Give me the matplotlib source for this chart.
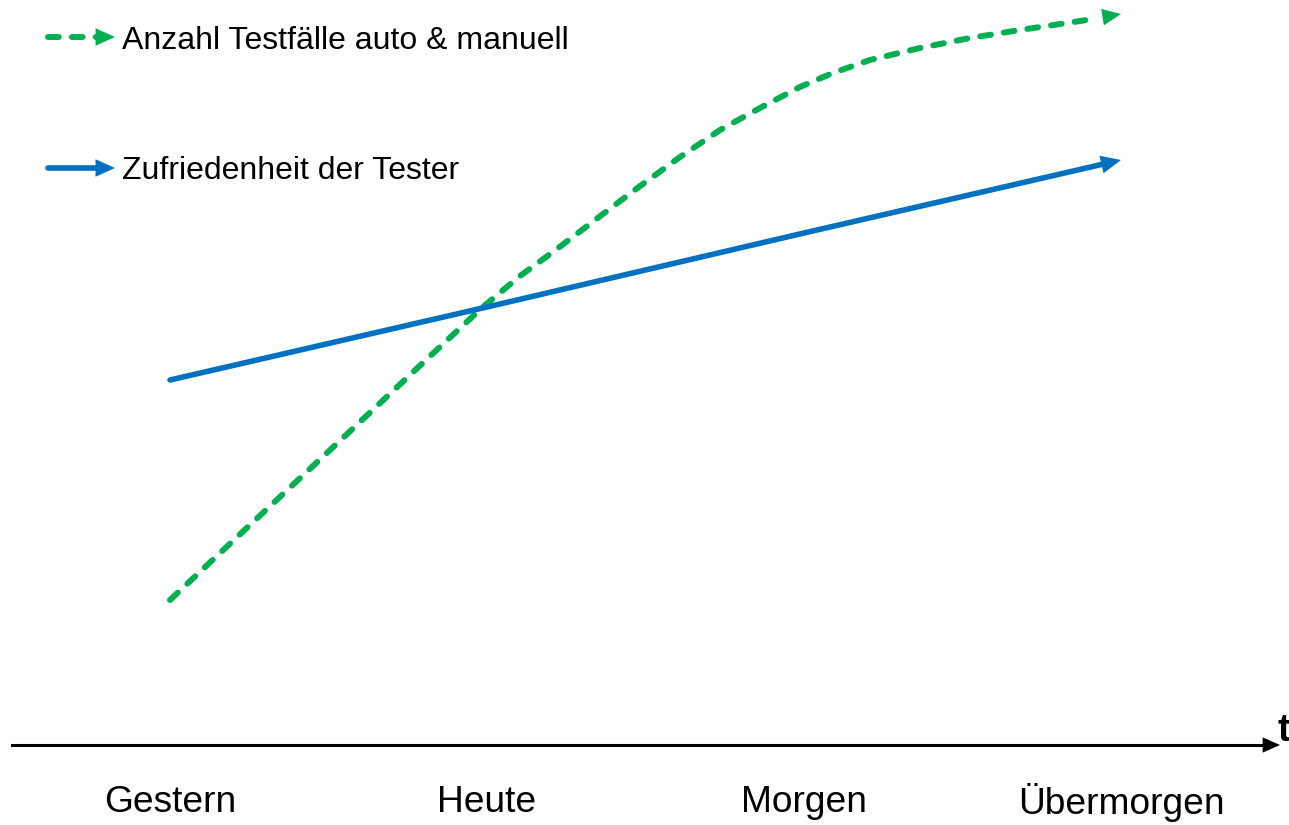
import matplotlib
matplotlib.use("Agg")
import matplotlib.pyplot as plt
from matplotlib.patches import FancyArrowPatch

# ---- data (category positions 0..3, arbitrary level units) ----
categories = ["Gestern", "Heute", "Morgen", "Übermorgen"]

testcases_x = [0.0, 0.252, 0.505, 0.757, 0.858, 0.987, 1.104, 1.208, 1.262, 1.366,
               1.483, 1.609, 1.735, 1.861, 1.987, 2.091, 2.208, 2.366, 2.524, 2.681,
               2.830, 2.912, 3.0]
testcases_y = [225, 300, 375, 450, 480, 518, 549, 573, 586, 611,
               639, 668, 695, 717, 738, 752, 765, 777, 787, 795,
               802, 806, 811]

satisfaction_x = [0, 1, 2, 3]
satisfaction_y = [445, 518, 592, 665]

legend_labels = ["Anzahl Testfälle auto & manuell", "Zufriedenheit der Tester"]
axis_label = "t"

GREEN = "#00B050"
BLUE = "#0070C0"
DASH = (0, (1.8, 2.2))

plt.rcParams["font.family"] = ["Liberation Sans", "DejaVu Sans"]

W, H = 1289, 825
fig = plt.figure(figsize=(W / 100, H / 100), dpi=100)
ax = fig.add_axes([0, 0, 1, 1])
px_per_cat = 317.0
x0_px = 170.0
ax.set_xlim(-x0_px / px_per_cat, (W - x0_px) / px_per_cat)
ax.set_ylim(0, H)
ax.axis("off")


def head(p0, p1, color, hl=14.4, hw=6.5, transform=None, artist_host=None):
    a = FancyArrowPatch(p0, p1, arrowstyle=f"-|>,head_length={hl},head_width={hw}",
                        mutation_scale=1, color=color, lw=0, shrinkA=0, shrinkB=0,
                        transform=transform if transform is not None else ax.transData,
                        zorder=5)
    if artist_host is None:
        ax.add_patch(a)
    else:
        artist_host.add_artist(a)


# green dashed curve
ax.plot(testcases_x[:-1], testcases_y[:-1], color=GREEN, lw=4.3, linestyle=DASH,
        dash_capstyle="round")
head((testcases_x[-3], testcases_y[-3]), (testcases_x[-1], testcases_y[-1]), GREEN,
     hl=13.5, hw=6.0)

# blue line
ax.plot(satisfaction_x[:-1] + [satisfaction_x[-1] - 0.03],
        satisfaction_y[:-1] + [satisfaction_y[-1] - 0.03 * (satisfaction_y[-1] - satisfaction_y[-2])],
        color=BLUE, lw=4.0, solid_capstyle="round")
head((satisfaction_x[-2], satisfaction_y[-2]), (satisfaction_x[-1], satisfaction_y[-1]), BLUE)

# time axis arrow (figure pixel coordinates)
tf = fig.transFigure
def fx(px):
    return px / W
def fy(py):
    return 1 - py / H

fig.add_artist(plt.Line2D([fx(12), fx(1266)], [fy(745), fy(745)], transform=tf,
                          color="black", lw=2.2))
head((fx(1240), fy(745)), (fx(1280), fy(745)), "black", hl=12.5, hw=5.5,
     transform=tf, artist_host=fig)
fig.text(fx(1277), fy(741), axis_label, fontsize=27, fontweight="bold",
         ha="left", va="baseline")

# category labels
for i, c in enumerate(categories):
    ax.text(i, H - 803, c, fontsize=26.7, ha="center", va="center")

# legend
fig.add_artist(plt.Line2D([fx(48), fx(100)], [fy(37), fy(37)], transform=tf, color=GREEN,
                          lw=4.3, linestyle=DASH, dash_capstyle="round"))
head((fx(95), fy(37)), (fx(115), fy(37)), GREEN, hl=14, hw=6.3, transform=tf, artist_host=fig)
fig.text(fx(122), fy(41), legend_labels[0], fontsize=23, ha="left", va="center")

fig.add_artist(plt.Line2D([fx(48), fx(104)], [fy(168), fy(168)], transform=tf, color=BLUE,
                          lw=4.0, solid_capstyle="round"))
head((fx(95), fy(168)), (fx(115), fy(168)), BLUE, hl=14, hw=6.3, transform=tf, artist_host=fig)
fig.text(fx(122), fy(171), legend_labels[1], fontsize=23, ha="left", va="center")

fig.savefig("out.png", dpi=100, facecolor="white")
